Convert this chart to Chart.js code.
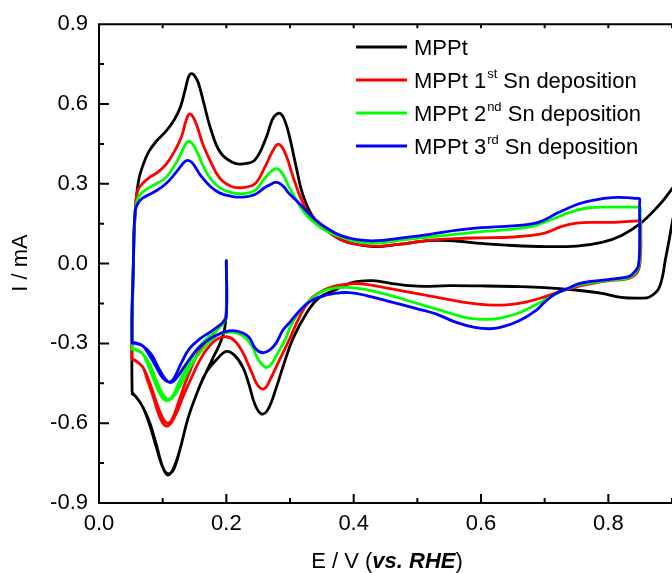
<!DOCTYPE html>
<html>
<head>
<meta charset="utf-8">
<script src="https://cdn.jsdelivr.net/npm/chart.js@4.4.1/dist/chart.umd.min.js"></script>
<style>
  html, body { margin: 0; padding: 0; background: #fff; overflow: hidden; }
  canvas { display: block; }
</style>
</head>
<body>
<canvas id="miGrafico" width="672" height="573"></canvas>
<script>
// ---- data (E in V vs RHE, I in mA) ----
// each curve: start at 0.2 V, first cathodic sweep, anodic sweep, cathodic sweep
var blackE = [0.200,0.200,0.197,0.190,0.180,0.168,0.155,0.140,0.127,0.117,0.108,0.100,0.090,0.080,0.069,0.058,0.052,
  0.054,0.057,0.062,0.069,0.078,0.090,0.106,0.118,0.128,0.136,0.141,0.146,0.151,0.156,0.165,0.175,0.190,0.210,0.226,0.245,0.262,0.272,0.279,0.286,0.293,0.300,0.310,0.320,0.335,0.355,0.380,0.410,0.435,0.470,0.520,0.560,0.600,0.650,0.700,0.750,0.790,0.820,0.850,0.880,0.910,
  0.900,0.890,0.880,0.865,0.850,0.820,0.790,0.750,0.700,0.650,0.600,0.550,0.500,0.460,0.430,0.400,0.370,0.345,0.325,0.305,0.290,0.278,0.265,0.255,0.245,0.235,0.226,0.213,0.200,0.185,0.168,0.155,0.140,0.127,0.117,0.108,0.100,0.090,0.080,0.069,0.058,0.052];
var blackI = [0.01,-0.17,-0.25,-0.30,-0.35,-0.41,-0.48,-0.58,-0.70,-0.77,-0.795,-0.765,-0.68,-0.60,-0.54,-0.50,-0.48,
  0.00,0.20,0.31,0.37,0.42,0.46,0.50,0.54,0.59,0.66,0.704,0.714,0.703,0.68,0.60,0.51,0.42,0.38,0.375,0.39,0.47,0.54,0.562,0.562,0.53,0.47,0.36,0.26,0.18,0.13,0.09,0.07,0.064,0.072,0.086,0.085,0.076,0.068,0.064,0.066,0.080,0.105,0.150,0.220,0.300,
  0.150,0.020,-0.090,-0.125,-0.130,-0.127,-0.112,-0.100,-0.090,-0.086,-0.084,-0.083,-0.085,-0.075,-0.064,-0.070,-0.100,-0.130,-0.190,-0.280,-0.380,-0.470,-0.550,-0.565,-0.530,-0.450,-0.390,-0.345,-0.330,-0.360,-0.410,-0.480,-0.580,-0.700,-0.775,-0.790,-0.765,-0.690,-0.610,-0.540,-0.500,-0.490];

var redE = [0.200,0.200,0.195,0.185,0.170,0.155,0.140,0.125,0.115,0.108,0.100,0.090,0.080,0.069,0.058,0.052,
  0.054,0.057,0.061,0.070,0.080,0.093,0.106,0.118,0.130,0.137,0.142,0.148,0.155,0.163,0.174,0.190,0.208,0.226,0.245,0.260,0.272,0.280,0.287,0.295,0.303,0.310,0.320,0.335,0.355,0.380,0.410,0.440,0.480,0.520,0.560,0.600,0.650,0.700,0.727,0.750,0.780,0.810,0.846,0.851,
  0.851,0.851,0.849,0.845,0.837,0.827,0.800,0.780,0.754,0.730,0.700,0.670,0.640,0.610,0.580,0.550,0.500,0.460,0.420,0.400,0.370,0.345,0.330,0.315,0.300,0.283,0.270,0.260,0.250,0.240,0.226,0.213,0.200,0.185,0.170,0.158,0.145,0.132,0.120,0.108,0.098,0.085,0.075,0.069,0.060,0.052];
var redI = [0.01,-0.19,-0.22,-0.25,-0.29,-0.34,-0.42,-0.52,-0.585,-0.60,-0.58,-0.52,-0.45,-0.39,-0.365,-0.355,
  0.00,0.20,0.275,0.305,0.325,0.345,0.375,0.42,0.48,0.54,0.562,0.55,0.51,0.45,0.39,0.32,0.29,0.286,0.30,0.36,0.42,0.448,0.44,0.40,0.34,0.29,0.23,0.17,0.13,0.09,0.07,0.066,0.075,0.088,0.094,0.097,0.100,0.115,0.140,0.152,0.155,0.155,0.161,0.162,
  0.14,0.05,-0.01,-0.035,-0.05,-0.058,-0.065,-0.072,-0.085,-0.10,-0.125,-0.145,-0.155,-0.155,-0.148,-0.135,-0.113,-0.095,-0.078,-0.075,-0.085,-0.11,-0.14,-0.20,-0.28,-0.365,-0.43,-0.47,-0.46,-0.41,-0.335,-0.29,-0.275,-0.285,-0.32,-0.365,-0.43,-0.50,-0.57,-0.61,-0.59,-0.50,-0.43,-0.39,-0.37,-0.36];

var greenE = [0.200,0.200,0.195,0.185,0.170,0.155,0.140,0.125,0.115,0.108,0.100,0.090,0.080,0.069,0.058,0.052,
  0.054,0.057,0.063,0.075,0.090,0.106,0.120,0.130,0.136,0.141,0.147,0.155,0.162,0.175,0.190,0.208,0.226,0.245,0.260,0.270,0.276,0.282,0.290,0.298,0.310,0.320,0.335,0.355,0.380,0.410,0.440,0.480,0.520,0.560,0.600,0.650,0.680,0.710,0.740,0.770,0.810,0.845,0.850,
  0.850,0.850,0.848,0.844,0.836,0.827,0.800,0.780,0.754,0.730,0.710,0.690,0.660,0.630,0.610,0.580,0.550,0.500,0.450,0.410,0.380,0.355,0.335,0.315,0.300,0.294,0.280,0.270,0.262,0.250,0.240,0.228,0.215,0.205,0.190,0.175,0.160,0.145,0.132,0.120,0.108,0.098,0.085,0.075,0.069,0.060,0.052];
var greenI = [0.01,-0.20,-0.225,-0.25,-0.28,-0.32,-0.38,-0.45,-0.50,-0.51,-0.49,-0.44,-0.38,-0.34,-0.325,-0.32,
  0.00,0.20,0.255,0.28,0.30,0.325,0.375,0.42,0.45,0.46,0.45,0.415,0.375,0.32,0.285,0.267,0.263,0.275,0.32,0.345,0.356,0.355,0.33,0.29,0.24,0.20,0.16,0.125,0.10,0.08,0.078,0.09,0.10,0.11,0.12,0.13,0.14,0.165,0.193,0.21,0.212,0.212,0.212,
  0.19,0.05,-0.01,-0.03,-0.048,-0.056,-0.063,-0.07,-0.08,-0.10,-0.125,-0.15,-0.185,-0.205,-0.21,-0.205,-0.185,-0.15,-0.115,-0.094,-0.09,-0.10,-0.13,-0.18,-0.24,-0.278,-0.34,-0.38,-0.39,-0.36,-0.31,-0.275,-0.26,-0.258,-0.265,-0.29,-0.33,-0.38,-0.44,-0.49,-0.515,-0.50,-0.43,-0.37,-0.34,-0.325,-0.32];

var blueE = [0.200,0.200,0.195,0.185,0.173,0.160,0.142,0.128,0.118,0.111,0.103,0.093,0.082,0.069,0.058,0.052,
  0.054,0.057,0.064,0.075,0.090,0.105,0.120,0.128,0.134,0.139,0.145,0.152,0.160,0.175,0.190,0.208,0.226,0.245,0.260,0.270,0.276,0.282,0.290,0.298,0.310,0.325,0.340,0.360,0.380,0.405,0.435,0.470,0.520,0.560,0.600,0.650,0.690,0.720,0.754,0.780,0.806,0.830,0.844,0.849,
  0.849,0.849,0.847,0.843,0.835,0.827,0.800,0.780,0.754,0.735,0.717,0.700,0.686,0.660,0.630,0.613,0.590,0.560,0.530,0.500,0.460,0.420,0.393,0.370,0.345,0.330,0.315,0.300,0.289,0.278,0.268,0.257,0.246,0.236,0.225,0.210,0.195,0.174,0.155,0.137,0.125,0.118,0.111,0.100,0.088,0.078,0.069,0.060,0.052];
var blueI = [0.01,-0.20,-0.22,-0.24,-0.26,-0.28,-0.32,-0.38,-0.43,-0.445,-0.43,-0.39,-0.34,-0.31,-0.30,-0.296,
  0.00,0.20,0.237,0.255,0.274,0.30,0.34,0.365,0.382,0.388,0.382,0.36,0.33,0.29,0.265,0.253,0.25,0.26,0.285,0.298,0.305,0.304,0.29,0.265,0.237,0.20,0.165,0.13,0.105,0.09,0.086,0.095,0.11,0.125,0.135,0.142,0.155,0.19,0.225,0.24,0.248,0.248,0.245,0.244,
  0.22,0.05,-0.01,-0.026,-0.045,-0.052,-0.06,-0.065,-0.075,-0.095,-0.113,-0.145,-0.177,-0.215,-0.24,-0.245,-0.24,-0.22,-0.19,-0.17,-0.145,-0.12,-0.109,-0.112,-0.127,-0.145,-0.177,-0.22,-0.25,-0.30,-0.325,-0.335,-0.32,-0.278,-0.26,-0.252,-0.258,-0.283,-0.32,-0.377,-0.42,-0.44,-0.447,-0.43,-0.38,-0.34,-0.31,-0.30,-0.296];

var etiquetas = ['MPPt', 'MPPt 1st Sn deposition', 'MPPt 2nd Sn deposition', 'MPPt 3rd Sn deposition'];
var legendMain = ['MPPt', 'MPPt 1', 'MPPt 2', 'MPPt 3'];
var legendSup = ['', 'st', 'nd', 'rd'];
var legendTail = ['', ' Sn deposition', ' Sn deposition', ' Sn deposition'];
var colores = ['#000000', '#ff0000', '#00ff00', '#0000ff'];

var FONT = "'Liberation Sans', Arial, Helvetica, sans-serif";

function puntos(E, I) {
    var p = [];
    for (var i = 0; i < E.length; i++) p.push({x: E[i], y: I[i]});
    return p;
}

// frame, inward ticks, legend and axis titles
var marco = {
    id: 'marco',
    afterDatasetsDraw: function(chart) {
        var ctx = chart.ctx, a = chart.chartArea, xs = chart.scales.x, ys = chart.scales.y;
        ctx.save();
        ctx.strokeStyle = '#000';
        ctx.lineWidth = 2;
        ctx.beginPath();
        ctx.moveTo(a.right + 2, a.top);
        ctx.lineTo(a.left, a.top);
        ctx.lineTo(a.left, a.bottom);
        ctx.lineTo(a.right + 2, a.bottom);
        for (var i = 0; i <= 9; i++) {
            var px = xs.getPixelForValue(i / 10);
            var len = (i % 2 === 0) ? 9 : 5;
            ctx.moveTo(px, a.bottom); ctx.lineTo(px, a.bottom - len);
            ctx.moveTo(px, a.top); ctx.lineTo(px, a.top + 4);
        }
        for (var j = -6; j <= 6; j++) {
            var py = ys.getPixelForValue(j * 0.15);
            var l = (j % 2 === 0) ? 10 : 5;
            ctx.moveTo(a.left, py); ctx.lineTo(a.left + l, py);
        }
        ctx.stroke();
        ctx.restore();
    },
    afterDraw: function(chart) {
        var ctx = chart.ctx;
        ctx.save();
        ctx.fillStyle = '#000';
        ctx.textBaseline = 'alphabetic';
        ctx.textAlign = 'left';

        // legend
        for (var k = 0; k < legendMain.length; k++) {
            var base = 55 + k * 33;
            ctx.strokeStyle = colores[k];
            ctx.lineWidth = 2.8;
            ctx.beginPath();
            ctx.moveTo(356, base - 8);
            ctx.lineTo(407, base - 8);
            ctx.stroke();
            var xt = 414;
            ctx.font = '22px ' + FONT;
            ctx.fillText(legendMain[k], xt, base);
            xt += ctx.measureText(legendMain[k]).width;
            if (legendSup[k]) {
                ctx.font = '13px ' + FONT;
                ctx.fillText(legendSup[k], xt + 1, base - 10);
                xt += ctx.measureText(legendSup[k]).width + 1;
                ctx.font = '22px ' + FONT;
                ctx.fillText(legendTail[k], xt, base);
            }
        }

        // x title with italic bold part
        var partes = [['E / V (', '22px '], ['vs. RHE', 'italic bold 22px '], [')', '22px ']];
        var total = 0;
        partes.forEach(function(p) { ctx.font = p[1] + FONT; total += ctx.measureText(p[0]).width; });
        var x0 = 387 - total / 2;
        partes.forEach(function(p) {
            ctx.font = p[1] + FONT;
            ctx.fillText(p[0], x0, 568);
            x0 += ctx.measureText(p[0]).width;
        });

        // y title
        ctx.translate(21, 263);
        ctx.rotate(-Math.PI / 2);
        ctx.textAlign = 'center';
        ctx.textBaseline = 'middle';
        ctx.font = '22px ' + FONT;
        ctx.fillText('I / mA', 0, 0);
        ctx.restore();
    }
};

var series = [[blackE, blackI], [redE, redI], [greenE, greenI], [blueE, blueI]];
var datasets = [];
for (var s = 0; s < series.length; s++) {
    datasets.push({
        label: etiquetas[s],
        data: puntos(series[s][0], series[s][1]),
        borderColor: colores[s],
        backgroundColor: colores[s],
        showLine: true,
        fill: false,
        order: series.length - s
    });
}

var mostrar = document.getElementById('miGrafico');
var grafico = new Chart(mostrar, {
    type: 'scatter',
    data: { datasets: datasets },
    options: {
        responsive: false,
        animation: false,
        devicePixelRatio: 1,
        layout: { padding: { top: 24, right: 0, left: 0, bottom: 0 } },
        elements: {
            point: { radius: 0, hoverRadius: 0 },
            line: { tension: 0.4, borderWidth: 2.8, borderJoinStyle: 'round', borderCapStyle: 'round' }
        },
        plugins: { legend: { display: false }, tooltip: { enabled: false } },
        scales: {
            x: {
                type: 'linear', min: 0, max: 0.9,
                afterFit: function(sc) { sc.height = 70; },
                grid: { display: false, drawTicks: false },
                border: { display: false },
                ticks: {
                    stepSize: 0.2, includeBounds: false, padding: 8, maxRotation: 0, autoSkip: false,
                    color: '#000', font: { family: FONT, size: 22 },
                    callback: function(v) { return v.toFixed(1); }
                }
            },
            y: {
                type: 'linear', min: -0.9, max: 0.9,
                afterFit: function(sc) { sc.width = 99; },
                grid: { display: false, drawTicks: false },
                border: { display: false },
                ticks: {
                    stepSize: 0.3, padding: 11,
                    color: '#000', font: { family: FONT, size: 22 },
                    callback: function(v) { return Math.abs(v) < 1e-9 ? '0.0' : v.toFixed(1); }
                }
            }
        }
    },
    plugins: [marco]
});
</script>
</body>
</html>
